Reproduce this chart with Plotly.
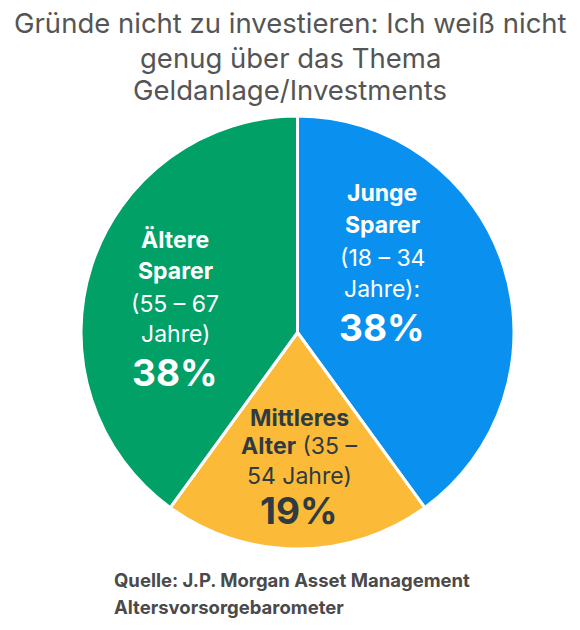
import plotly.graph_objects as go

# ---- data ----
categories = ["Junge Sparer", "Mittleres Alter", "Ältere Sparer"]
values = [38, 19, 38]
colors = ["#0a91f0", "#fbbb38", "#00a067"]
text_colors = ["#ffffff", "#2f3b40", "#ffffff"]
# label lines: (text, bold)
label_lines = [
    [("Junge", True), ("Sparer", True), ("(18 – 34", False), ("Jahre):", False), ("38%", True)],
    [("Mittleres", True), ("<b>Alter</b> (35 –", False), ("54 Jahre)", False), ("19%", True)],
    [("Ältere", True), ("Sparer", True), ("(55 – 67", False), ("Jahre)", False), ("38%", True)],
]
label_x = [382, 299, 175]
label_y = [
    [193, 225, 258, 289, 327],
    [418, 446, 476, 510],
    [240, 271, 304, 334, 372],
]
title_lines = ["Gründe nicht zu investieren: Ich weiß nicht", "genug über das Thema", "Geldanlage/Investments"]
source_lines = ["Quelle: J.P. Morgan Asset Management", "Altersvorsorgebarometer"]

W, H = 580, 630
FONT = "Inter, Liberation Sans, Arial, sans-serif"

fig = go.Figure()
fig.add_trace(go.Pie(
    labels=categories, values=values, sort=False, direction="clockwise", rotation=0,
    marker=dict(colors=colors, line=dict(color="white", width=3)),
    textinfo="none", hoverinfo="none", showlegend=False,
    domain=dict(x=[81 / W, 514 / W], y=[1 - 549 / H, 1 - 116 / H]),
))

ann = []
for i, lines in enumerate(label_lines):
    for j, (t, b) in enumerate(lines):
        is_pct = t.endswith("%")
        txt = f"<b>{t}</b>" if b else t
        ann.append(dict(
            x=label_x[i] / W, y=1 - label_y[i][j] / H, xref="paper", yref="paper",
            text=txt, showarrow=False, xanchor="center", yanchor="middle",
            font=dict(family=FONT, size=37 if is_pct else 23, color=text_colors[i]),
        ))

title_y = [23, 58, 90]
for j, t in enumerate(title_lines):
    ann.append(dict(
        x=0.5, y=1 - title_y[j] / H, xref="paper", yref="paper", text=t,
        showarrow=False, xanchor="center", yanchor="middle",
        font=dict(family=FONT, size=27.5, color="#555555"),
    ))

source_y = [580, 607]
for j, t in enumerate(source_lines):
    ann.append(dict(
        x=112 / W, y=1 - source_y[j] / H, xref="paper", yref="paper", text=f"<b>{t}</b>",
        showarrow=False, xanchor="left", yanchor="middle",
        font=dict(family=FONT, size=18.5, color="#4a4a4a"),
    ))

fig.update_layout(
    width=W, height=H, margin=dict(l=0, r=0, t=0, b=0),
    paper_bgcolor="white", plot_bgcolor="white", annotations=ann,
)
fig.write_html("out.html")
